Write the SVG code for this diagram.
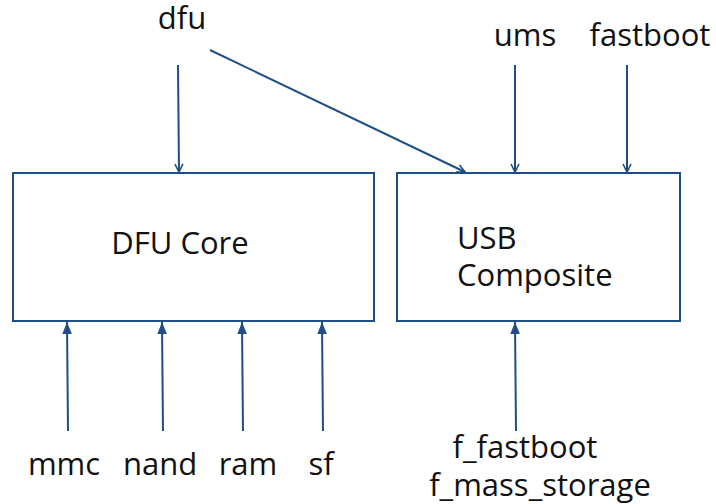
<svg xmlns="http://www.w3.org/2000/svg" width="716" height="504" viewBox="0 0 716 504">
<defs>
<style>
.box{fill:#fff;stroke:#1f4e85;stroke-width:2}
.c{stroke:#1f4e85;stroke-width:2;fill:none}
text{font-family:"Open Sans","Liberation Sans",sans-serif;font-size:31px;fill:#111}
</style>
<marker id="open" viewBox="0 0 10 10" refX="9" refY="5" markerWidth="10" markerHeight="10" markerUnits="userSpaceOnUse" orient="auto">
<path d="M1,1 L9,5 L1,9" fill="none" stroke="#1f4e85" stroke-width="1.6"/>
</marker>
<marker id="fill" viewBox="0 0 10 10" refX="10" refY="5" markerWidth="12" markerHeight="12" markerUnits="userSpaceOnUse" orient="auto">
<path d="M0,1 L10,5 L0,9 Z" fill="#1f4e85"/>
</marker>
</defs>
<rect width="716" height="504" fill="#fff"/>
<g id="dfu-core"><rect class="box" x="13" y="173" width="361" height="148"/><text x="180" y="254" text-anchor="middle">DFU Core</text></g>
<g id="usb-composite"><rect class="box" x="397" y="173" width="283" height="148"/><text x="457" y="249">USB</text><text x="457" y="286">Composite</text></g>
<g id="dfu"><text x="182" y="29" text-anchor="middle">dfu</text></g>
<g id="ums"><text x="525" y="46" text-anchor="middle">ums</text></g>
<g id="fastboot"><text x="650" y="46" text-anchor="middle">fastboot</text></g>
<g id="mmc"><text x="64" y="475" text-anchor="middle">mmc</text></g>
<g id="nand"><text x="160" y="475" text-anchor="middle">nand</text></g>
<g id="ram"><text x="248" y="475" text-anchor="middle">ram</text></g>
<g id="sf"><text x="321" y="475" text-anchor="middle">sf</text></g>
<g id="functions"><text x="525" y="458" text-anchor="middle">f_fastboot</text><text x="540" y="496" text-anchor="middle">f_mass_storage</text></g>
<g id="connectors">
<line class="c" x1="178" y1="65" x2="179" y2="172" marker-end="url(#open)"/>
<line class="c" x1="210" y1="50" x2="465" y2="172" marker-end="url(#open)"/>
<line class="c" x1="515" y1="65" x2="515" y2="172" marker-end="url(#open)"/>
<line class="c" x1="627" y1="65" x2="627" y2="172" marker-end="url(#open)"/>
<line class="c" x1="68" y1="431" x2="67" y2="322" marker-end="url(#fill)"/>
<line class="c" x1="163" y1="431" x2="162" y2="322" marker-end="url(#fill)"/>
<line class="c" x1="243" y1="431" x2="242" y2="322" marker-end="url(#fill)"/>
<line class="c" x1="323" y1="431" x2="322" y2="322" marker-end="url(#fill)"/>
<line class="c" x1="516" y1="431" x2="515" y2="322" marker-end="url(#fill)"/>
</g>
</svg>
